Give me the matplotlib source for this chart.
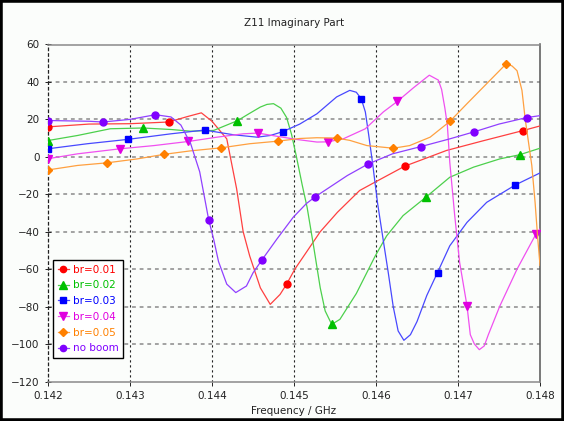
import matplotlib
matplotlib.use('Agg')
import matplotlib.pyplot as plt
from matplotlib.patches import Rectangle

# Z11 imaginary part vs frequency (GHz) for several boom radii
red_f = [0.1420, 0.1425, 0.1430, 0.14347, 0.1437, 0.14387, 0.1440, 0.14418, 0.1443, 0.14438,
         0.14446, 0.14459, 0.14471, 0.14483, 0.14491, 0.14501, 0.14515, 0.14532, 0.14553, 0.1458,
         0.14601, 0.14635, 0.14686, 0.1473, 0.14779, 0.1480]
red_z = [16, 17.5, 17.7, 18.6, 21.5, 23.5, 19, 9.6, -17, -40,
         -53, -70, -78.8, -73.5, -68, -60, -51, -40, -29.6, -18,
         -13, -5, 3.4, 8.5, 14, 16.5]

green_f = [0.1420, 0.14236, 0.14276, 0.14316, 0.1435, 0.14374, 0.14402, 0.14431, 0.14445, 0.14459,
           0.14467, 0.14475, 0.14484, 0.14491, 0.14497, 0.14503, 0.1451, 0.14516, 0.14524, 0.14532,
           0.14538, 0.14546, 0.14556, 0.14576, 0.14599, 0.14613, 0.14633, 0.14661, 0.1469, 0.14719,
           0.14751, 0.14775, 0.1480]
green_z = [8.7, 11.4, 15, 15.4, 14.6, 13.7, 14.1, 19.3, 23, 26.6,
           28, 28.4, 26, 21, 12, 0, -15, -27, -48, -70,
           -82.3, -89.5, -86.8, -73, -53, -42.2, -31.4, -21.5, -10.9, -5.5,
           -1.1, 1.1, 4.6]

blue_f = [0.1420, 0.14248, 0.14297, 0.1435, 0.14391, 0.14426, 0.14455, 0.14471, 0.14486, 0.14507,
          0.14528, 0.14552, 0.14568, 0.14576, 0.14582, 0.14587, 0.14591, 0.14596, 0.14602, 0.14609,
          0.14615, 0.14621, 0.14627, 0.14634, 0.14642, 0.1465, 0.14662, 0.14675, 0.1469, 0.14711,
          0.14735, 0.1477, 0.1480]
blue_z = [4.3, 7, 9.3, 12.3, 14.3, 11.8, 10.5, 11.4, 13.4, 17.5,
          23, 32, 35.5, 34.5, 31, 24, 12, -4, -25, -45,
          -62, -80, -93, -98, -95, -88, -74, -61.8, -47.5, -35,
          -24.3, -15, -8.6]

magenta_f = [0.1420, 0.14236, 0.14288, 0.14329, 0.14371, 0.14406, 0.14438, 0.14456, 0.14479, 0.14503,
             0.14528, 0.14541, 0.1456, 0.14587, 0.14609, 0.14626, 0.14646, 0.14665, 0.14676, 0.1468,
             0.14684, 0.14687, 0.1469, 0.14696, 0.14702, 0.14711, 0.14715, 0.1472, 0.14726, 0.14732,
             0.14737, 0.14751, 0.14772, 0.14795, 0.1480]
magenta_z = [-1, 1.6, 4.3, 6, 8.2, 10.5, 12.3, 12.7, 11, 9.3,
             7.9, 8, 9.6, 15, 24, 29.6, 37, 43.6, 41, 36,
             26, 17, -3, -31.4, -56.4, -79.7, -95, -100, -103, -101,
             -95, -79.7, -60, -41.3, -38.6]

orange_f = [0.1420, 0.14236, 0.14272, 0.14309, 0.14341, 0.14374, 0.14411, 0.14446, 0.14481, 0.14507,
            0.14528, 0.14552, 0.14568, 0.14589, 0.14621, 0.14641, 0.14666, 0.1469, 0.14711, 0.14731,
            0.14751, 0.14759, 0.14766, 0.14772, 0.14778, 0.14782, 0.1479, 0.14794, 0.14797, 0.1480]
orange_z = [-7, -4.6, -3.2, -1.1, 1.3, 3.2, 4.8, 7, 8.4, 9.8,
            10.2, 10, 8.8, 6, 4.6, 6, 10.5, 18.9, 28.4, 37.3,
            46.2, 49.8, 48.5, 46, 35.5, 20, -4.6, -24.3, -42.2, -58]

purple_f = [0.1420, 0.1425, 0.14267, 0.1430, 0.14331, 0.1435, 0.14362, 0.14374, 0.14385, 0.14391,
            0.14396, 0.14402, 0.14408, 0.14418, 0.14429, 0.14442, 0.1445, 0.14461, 0.14479, 0.14499,
            0.14515, 0.14526, 0.14565, 0.1459, 0.1462, 0.14655, 0.1469, 0.1472, 0.1475, 0.14784,
            0.1480]
purple_z = [19.4, 19, 18.6, 20, 22.5, 21.3, 17, 7, -8, -22,
            -33.7, -44, -56, -68, -72.5, -69, -62, -55, -44, -32.3,
            -25, -21.3, -10, -3.9, 1.6, 5.5, 9.6, 13.4, 17.5, 21,
            22]

labels = ['br=0.01', 'br=0.02', 'br=0.03', 'br=0.04', 'br=0.05', 'no boom']
xticks = [0.142, 0.143, 0.144, 0.145, 0.146, 0.147, 0.148]
yticks = [-120, -100, -80, -60, -40, -20, 0, 20, 40, 60]

# sample indices that carry a marker
red_m = [0, 3, 14, 21, 24]
green_m = [0, 3, 7, 21, 27, 31]
blue_m = [0, 2, 4, 8, 14, 27, 31]
magenta_m = [0, 2, 4, 7, 11, 15, 25, 33]
orange_m = [0, 2, 4, 6, 8, 11, 14, 17, 21]
purple_m = [0, 2, 4, 10, 17, 21, 23, 25, 27, 29]

series = [
    (red_f, red_z, red_m, 'o', 5, '#ff4040', '#ff0000'),
    (green_f, green_z, green_m, '^', 6, '#4cd04c', '#00c000'),
    (blue_f, blue_z, blue_m, 's', 5, '#4848ff', '#0000ff'),
    (magenta_f, magenta_z, magenta_m, 'v', 6, '#f050f0', '#e000e0'),
    (orange_f, orange_z, orange_m, 'D', 4.5, '#ffa040', '#ff8000'),
    (purple_f, purple_z, purple_m, 'o', 5, '#9040ff', '#8000ff'),
]

bg = '#fbfdfb'
fig = plt.figure(figsize=(5.64, 4.21), dpi=100, facecolor=bg)
ax = fig.add_axes([48/564, 1 - 381.5/421, 492/564, 337/421], facecolor=bg)
plt.rcParams['font.family'] = 'DejaVu Sans'

for i, (f, z, m, mk, ms, lc, mc) in enumerate(series):
    ax.plot(f, z, color=lc, lw=0.9, marker=mk, markevery=m, markersize=ms,
            markerfacecolor=mc, markeredgecolor=mc, label=labels[i], zorder=3)

ax.set_xlim(0.142, 0.148)
ax.set_ylim(-120, 60)
ax.set_xticks(xticks)
ax.set_xticklabels(['%.3f' % v for v in xticks])
ax.set_yticks(yticks)
ax.tick_params(labelsize=7.5, colors='#222222', length=3, width=0.7)
ax.tick_params(axis='y', direction='inout', length=5)

# dotted grid, darker on vertical lines
for v in xticks[1:-1]:
    ax.axvline(v, color='#222222', lw=0.8, ls=(0, (2, 2.5)), zorder=1)
for v in yticks[1:-1]:
    ax.axhline(v, color='#8a8a8a', lw=1.1, ls=(0, (2.5, 2.5)), zorder=1)

ax.spines['left'].set_linestyle((0, (2, 2.5)))
ax.spines['left'].set_color('#222222')
ax.spines['left'].set_linewidth(0.9)
ax.spines['top'].set_color('#8a8a8a')
ax.spines['bottom'].set_color('#8a8a8a')
ax.spines['right'].set_color('#555555')
for s in ['top', 'bottom', 'right']:
    ax.spines[s].set_linewidth(1.1)

ax.set_title('Z11 Imaginary Part', fontsize=7.5, color='#222222', pad=13)
ax.set_xlabel('Frequency / GHz', fontsize=7.5, color='#222222', labelpad=4)

leg = ax.legend(loc='lower left', bbox_to_anchor=(5/492, 23.5/337), borderaxespad=0,
                fontsize=7.5, handlelength=1.1, handletextpad=0.35, labelspacing=0.55,
                borderpad=0.45, fancybox=False, framealpha=1, edgecolor='black',
                markerscale=0.9)
leg.get_frame().set_linewidth(1.0)
leg.get_frame().set_facecolor('white')
for t, s in zip(leg.get_texts(), series):
    t.set_color(s[6])

# black frame round the whole figure
fig.patches.append(Rectangle((0, 0), 1, 1, transform=fig.transFigure, fill=False,
                             edgecolor='black', lw=4))

fig.savefig('out.png', dpi=100, facecolor=bg)
